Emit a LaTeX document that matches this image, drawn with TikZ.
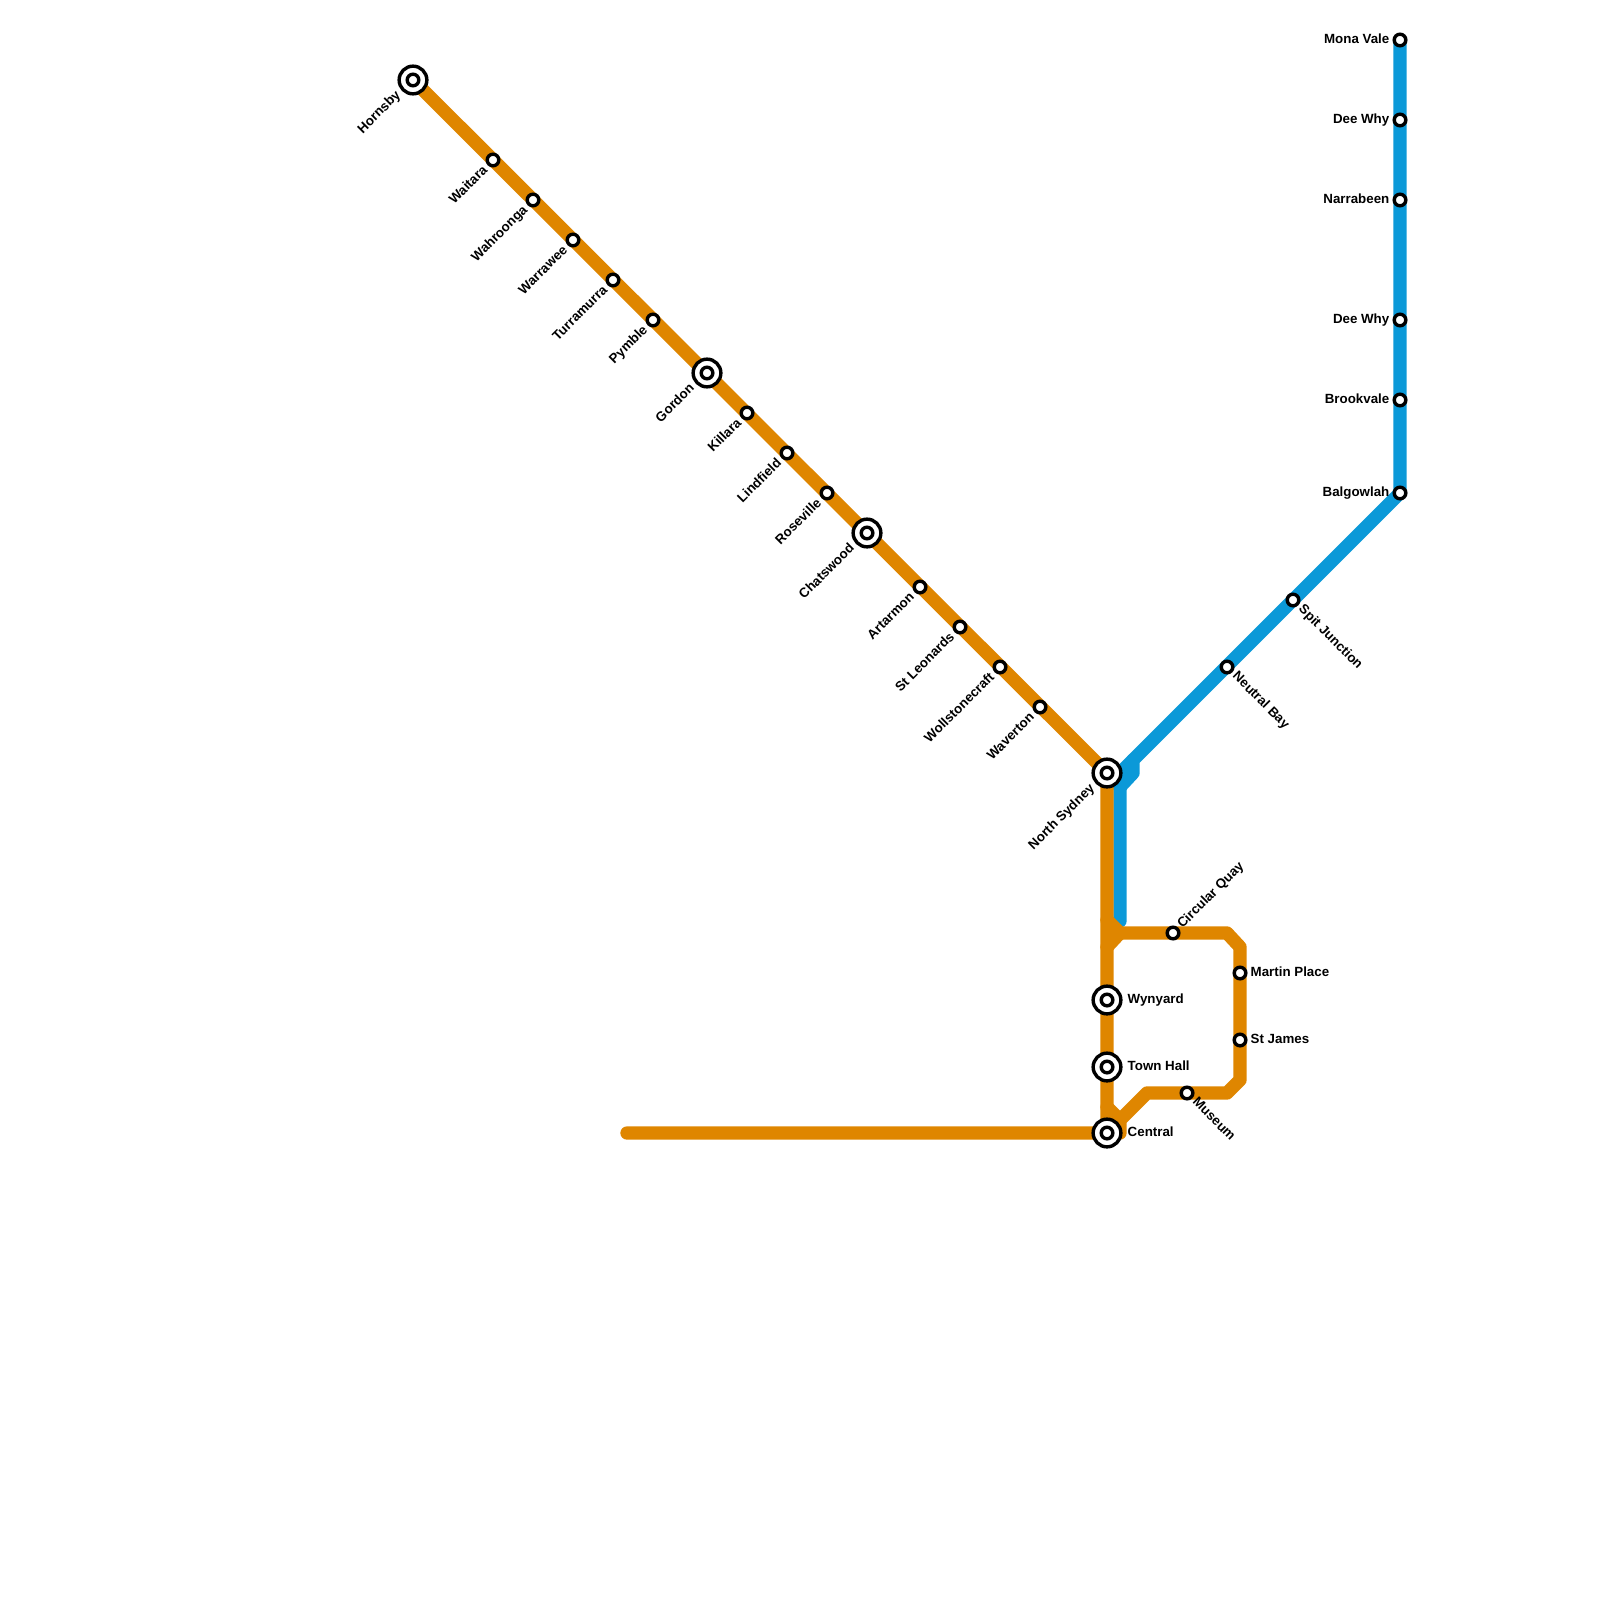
\documentclass[tikz,border=0pt]{standalone}
\usepackage{fontspec}
\setmainfont{Liberation Sans}
\usetikzlibrary{backgrounds,calc}
\definecolor{lineorange}{HTML}{DF8600}
\definecolor{lineblue}{HTML}{0B99D8}
\tikzset{
  x=0.01cm,y=-0.01cm,
  small/.style={circle,draw=black,fill=white,line width=0.97pt,minimum size=0.116cm,inner sep=0pt},
  large/.style={circle,draw=black,fill=white,line width=0.97pt,minimum size=0.277cm,inner sep=0pt},
  lab/.style={font=\bfseries\fontsize{3.79pt}{4.5pt}\selectfont,inner sep=0pt,text=black,text height=2.8pt,text depth=0.8pt},
  route/.style={line width=3.79pt,line cap=round,line join=round},
  orangeroute/.style={route,draw=lineorange},
  blueroute/.style={route,draw=lineblue},
}
\newcommand{\statdl}[4]{\node[small] (#1) at (#2,#3) {};
  \node[lab,rotate=45,anchor=east] (#1-t) at ($(#2,#3)+(-7,8)$) {#4};}
\newcommand{\hubdl}[4]{\node[large] (#1-o) at (#2,#3) {};\node[small] (#1) at (#2,#3) {};
  \node[lab,rotate=45,anchor=east] (#1-t) at ($(#2,#3)+(-14,13)$) {#4};}
\newcommand{\statl}[4]{\node[small] (#1) at (#2,#3) {};
  \node[lab,anchor=east] (#1-t) at ($(#2,#3)+(-10,0.3)$) {#4};}
\newcommand{\statr}[4]{\node[small] (#1) at (#2,#3) {};
  \node[lab,anchor=west] (#1-t) at ($(#2,#3)+(10,0.3)$) {#4};}
\newcommand{\hubr}[4]{\node[large] (#1-o) at (#2,#3) {};\node[small] (#1) at (#2,#3) {};
  \node[lab,anchor=west] (#1-t) at ($(#2,#3)+(20,0.3)$) {#4};}
\newcommand{\statdr}[4]{\node[small] (#1) at (#2,#3) {};
  \node[lab,rotate=-45,anchor=west] (#1-t) at ($(#2,#3)+(7,7)$) {#4};}
\begin{document}
\begin{tikzpicture}
\path[use as bounding box] (0,0) rectangle (1600,1600);
\hubdl{hornsby}{413}{80}{Hornsby}
\statdl{waitara}{493}{160}{Waitara}
\statdl{wahroonga}{533}{200}{Wahroonga}
\statdl{warrawee}{573}{240}{Warrawee}
\statdl{turramurra}{613}{280}{Turramurra}
\statdl{pymble}{653}{320}{Pymble}
\hubdl{gordon}{707}{373}{Gordon}
\statdl{killara}{747}{413}{Killara}
\statdl{lindfield}{787}{453}{Lindfield}
\statdl{roseville}{827}{493}{Roseville}
\hubdl{chatswood}{867}{533}{Chatswood}
\statdl{artarmon}{920}{587}{Artarmon}
\statdl{stleonards}{960}{627}{St Leonards}
\statdl{wollstonecraft}{1000}{667}{Wollstonecraft}
\statdl{waverton}{1040}{707}{Waverton}
\hubdl{northsydney}{1107}{773}{North Sydney}
\hubr{wynyard}{1107}{1000}{Wynyard}
\hubr{townhall}{1107}{1067}{Town Hall}
\hubr{central}{1107}{1133}{Central}
\node[small] (circularquay) at (1173,933) {};
\node[lab,rotate=45,anchor=west] (circularquay-t) at (1179.5,927) {Circular Quay};
\statr{martinplace}{1240}{973}{Martin Place}
\statr{stjames}{1240}{1040}{St James}
\statdr{museum}{1187}{1093}{Museum}
\statdr{neutralbay}{1227}{667}{Neutral Bay}
\statdr{spitjunction}{1293}{600}{Spit Junction}
\statl{balgowlah}{1400}{493}{Balgowlah}
\statl{brookvale}{1400}{400}{Brookvale}
\statl{deewhytwo}{1400}{320}{Dee Why}
\statl{narrabeen}{1400}{200}{Narrabeen}
\statl{deewhyone}{1400}{120}{Dee Why}
\statl{monavale}{1400}{40}{Mona Vale}
\coordinate (b1) at (1133,760);
\coordinate (b2) at (1133,773);
\coordinate (b3) at (1120,787);
\coordinate (b4) at (1120,773);
\coordinate (b5) at (1120,921);
\coordinate (o1) at (1107,920);
\coordinate (o2) at (1120,933);
\coordinate (o3) at (1107,947);
\coordinate (o4) at (1227,933);
\coordinate (o5) at (1240,947);
\coordinate (o6) at (1240,1080);
\coordinate (o7) at (1227,1093);
\coordinate (o8) at (1147,1093);
\coordinate (o9) at (1120,1120);
\coordinate (o10) at (1120,1133);
\coordinate (o11) at (1107,1107);
\coordinate (west) at (627,1133);
\begin{pgfonlayer}{background}
\fill[white] (0,0) rectangle (1600,1600);
\draw[blueroute] (monavale.center) -- (balgowlah.center) -- (b1) -- (b2) -- (b3);
\draw[blueroute] (b1) -- (b4) -- (b5);
\draw[blueroute] (b4) -- (b3);
\draw[orangeroute] (hornsby.center) -- (northsydney.center) -- (central.center) -- (west);
\draw[orangeroute] (o1) -- (o2) -- (o4) -- (o5) -- (o6) -- (o7) -- (o8) -- (o9) -- (o10) -- (central.center);
\draw[orangeroute] (o2) -- (o3);
\draw[orangeroute] (o11) -- (o9);
\end{pgfonlayer}
\end{tikzpicture}
\end{document}
